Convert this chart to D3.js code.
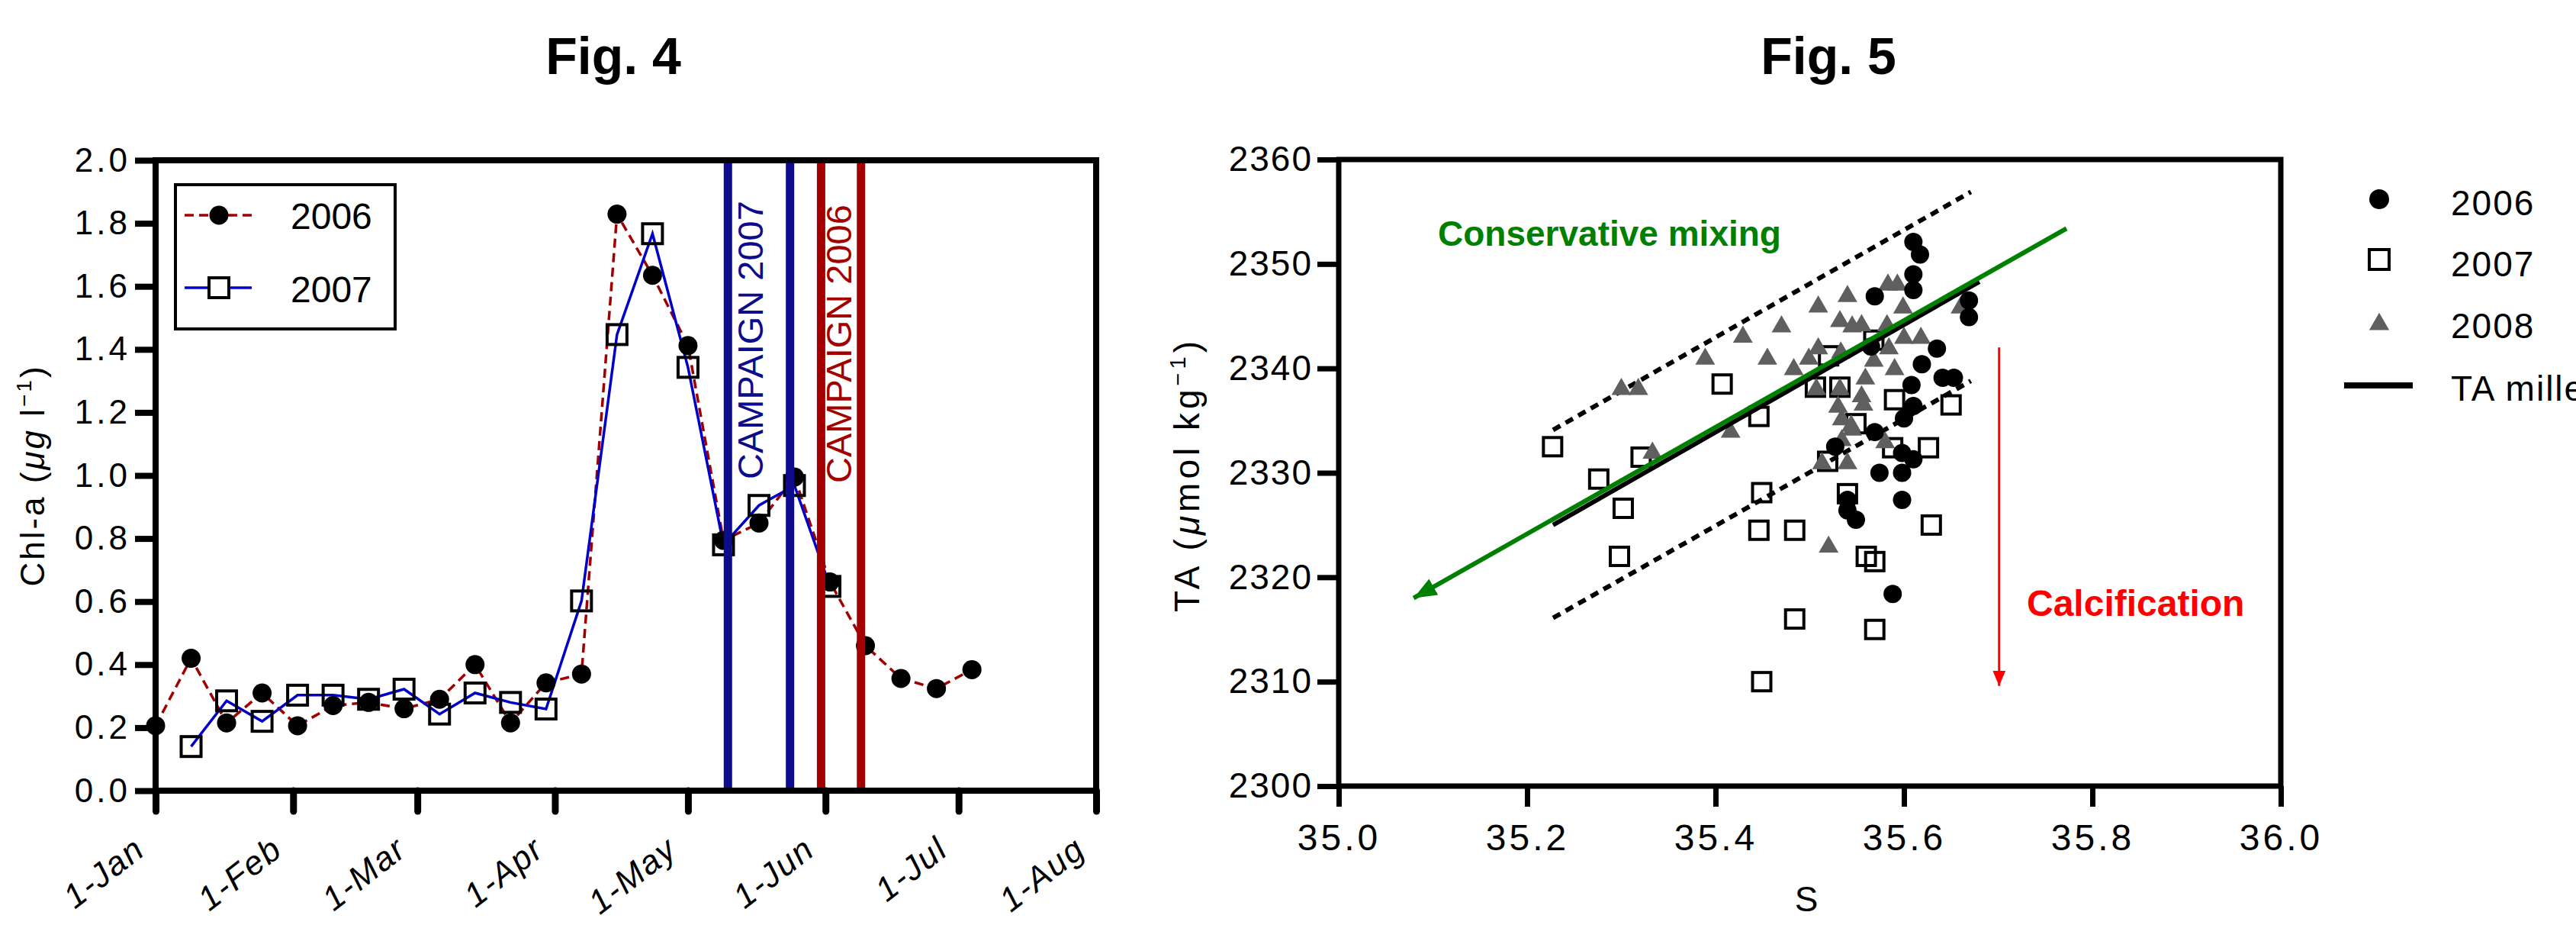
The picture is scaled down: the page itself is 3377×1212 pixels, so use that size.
<!DOCTYPE html>
<html>
<head>
<meta charset="utf-8">
<title>Fig. 4 / Fig. 5</title>
<script src="https://d3js.org/d3.v7.min.js"></script>
<style>
  body { margin: 0; background: #fff; }
  text { font-family: "Comic Sans MS", "Liberation Sans", Arial, sans-serif; }
</style>
</head>
<body>
<script>
// ---------- Fig. 4 data : 8-day Chl-a ----------
const chlDates2006 = ["01-01","01-09","01-17","01-25","02-02","02-10","02-18","02-26","03-06","03-14","03-22","03-30",
                      "04-07","04-15","04-23","05-01","05-09","05-17","05-25","06-02","06-10","06-18","06-26","07-04"];
const chl2006 = [0.206,0.42,0.215,0.31,0.206,0.27,0.28,0.26,0.29,0.40,0.215,0.342,
                 0.37,1.829,1.635,1.412,0.794,0.849,0.995,0.662,0.46,0.356,0.324,0.384];
const chlDates2007 = ["01-09","01-17","01-25","02-02","02-10","02-18","02-26","03-06","03-14","03-22","03-30",
                      "04-07","04-15","04-23","05-01","05-09","05-17","05-25","06-02"];
const chl2007 = [0.14,0.285,0.22,0.303,0.303,0.29,0.322,0.243,0.31,0.28,0.259,
                 0.602,1.447,1.767,1.343,0.78,0.905,0.968,0.648];
const campaign2007 = ["05-10","05-24"];
const campaign2006 = ["05-31","06-09"];
const monthTicks = ["01-01","02-01","03-01","04-01","05-01","06-01","07-01","08-01"];
const monthLabels = ["1-Jan","1-Feb","1-Mar","1-Apr","1-May","1-Jun","1-Jul","1-Aug"];
const chlTicks = [0,0.2,0.4,0.6,0.8,1.0,1.2,1.4,1.6,1.8,2.0];

// ---------- Fig. 5 data : TA vs S ----------
const ta2006 = [[35.610,2352.1],[35.617,2350.9],[35.610,2349.0],[35.610,2347.5],[35.569,2346.9],[35.669,2346.5],
                [35.669,2344.9],[35.635,2341.9],[35.619,2340.4],[35.641,2339.1],[35.653,2339.1],[35.608,2338.4],
                [35.610,2336.4],[35.600,2335.2],[35.569,2333.9],[35.527,2332.5],[35.598,2331.9],[35.610,2331.3],
                [35.574,2330.0],[35.598,2330.0],[35.540,2327.4],[35.540,2326.4],[35.549,2325.5],[35.598,2327.4],
                [35.588,2318.4],[35.565,2342.1]];
const ta2007 = [[35.227,2332.5],[35.276,2329.4],[35.302,2326.6],[35.298,2322.0],[35.321,2331.5],[35.407,2338.5],
                [35.446,2335.4],[35.449,2328.1],[35.446,2324.5],[35.484,2324.5],[35.484,2316.0],[35.449,2310.0],
                [35.520,2341.2],[35.506,2338.2],[35.532,2338.2],[35.519,2331.1],[35.549,2334.7],[35.540,2328.0],
                [35.560,2322.0],[35.569,2321.5],[35.569,2315.0],[35.590,2337.0],[35.588,2332.4],[35.626,2332.4],
                [35.629,2325.0],[35.650,2336.5],[35.568,2342.7]];
const ta2008 = [[35.300,2338.0],[35.318,2338.0],[35.333,2331.9],[35.389,2340.9],[35.416,2333.9],[35.429,2343.0],
                [35.455,2340.9],[35.470,2344.0],[35.483,2339.9],[35.499,2340.9],[35.509,2341.9],[35.509,2345.9],
                [35.507,2338.0],[35.532,2338.0],[35.533,2341.5],[35.532,2344.5],[35.540,2346.9],[35.545,2344.0],
                [35.555,2344.1],[35.559,2339.0],[35.555,2337.3],[35.557,2336.5],[35.530,2336.3],[35.534,2335.1],
                [35.544,2334.5],[35.545,2334.1],[35.534,2333.1],[35.513,2330.9],[35.540,2330.9],[35.580,2332.9],
                [35.520,2322.9],[35.568,2340.7],[35.584,2341.9],[35.590,2339.9],[35.582,2344.1],[35.600,2342.9],
                [35.618,2342.9],[35.599,2345.8],[35.583,2348.0],[35.593,2348.0],[35.660,2345.8]];
const mixingLine = [[35.7725,2353.4],[35.0795,2318.0]];
const milleroLine = [[35.2275,2325.0],[35.680,2348.3]];
const upperBound = [[35.2275,2334.1],[35.671,2356.9]];
const lowerBound = [[35.2275,2316.1],[35.671,2338.8]];
const calcArrow = [[35.701,2342.0],[35.701,2309.6]];
const sTicks = [35.0,35.2,35.4,35.6,35.8,36.0];
const taTicks = [2300,2310,2320,2330,2340,2350,2360];

const parseDay = d3.utcParse("%m-%d");

const svg = d3.select("body").append("svg")
    .attr("width", 3377)
    .attr("height", 1212);

const defs = svg.append("defs");
function arrowHead(id, color, w, l) {
    defs.append("marker")
        .attr("id", id)
        .attr("markerUnits", "userSpaceOnUse")
        .attr("viewBox", `0 ${-w/2} ${l} ${w}`)
        .attr("refX", l).attr("refY", 0)
        .attr("markerWidth", l).attr("markerHeight", w)
        .attr("orient", "auto")
        .append("path")
        .attr("d", `M0,${-w/2}L${l},0L0,${w/2}Z`)
        .attr("fill", color);
}
arrowHead("arrGreen", "#008000", 24, 30);
arrowHead("arrRed", "#ff0000", 17, 20);

// =============== Fig. 4 ===============
const x4 = d3.scaleUtc().domain([parseDay("01-01"), parseDay("08-01")]).range([204, 1437]);
const y4 = d3.scaleLinear().domain([0, 2]).range([1036, 210]);

const f4 = svg.append("g");

f4.append("text")
    .attr("x", 804).attr("y", 97)
    .attr("text-anchor", "middle")
    .attr("font-size", 68).attr("font-weight", "bold")
    .text("Fig. 4");

const s2006 = chlDates2006.map((d, i) => ({ date: parseDay(d), v: chl2006[i] }));
const s2007 = chlDates2007.map((d, i) => ({ date: parseDay(d), v: chl2007[i] }));

const line4 = d3.line().x(d => x4(d.date)).y(d => y4(d.v));

f4.append("path").datum(s2006)
    .attr("d", line4)
    .attr("fill", "none").attr("stroke", "#a00000")
    .attr("stroke-width", 3.5).attr("stroke-dasharray", "12,7");
f4.append("path").datum(s2007)
    .attr("d", line4)
    .attr("fill", "none").attr("stroke", "#0000c8")
    .attr("stroke-width", 3.5);

f4.selectAll(".sq07").data(s2007).join("rect")
    .attr("x", d => x4(d.date) - 13).attr("y", d => y4(d.v) - 13)
    .attr("width", 26).attr("height", 26)
    .attr("fill", "none").attr("stroke", "#000").attr("stroke-width", 4);
f4.selectAll(".c06").data(s2006).join("circle")
    .attr("cx", d => x4(d.date)).attr("cy", d => y4(d.v))
    .attr("r", 12.5).attr("fill", "#000");

// campaign bars
[[campaign2007, "#0c0c8c"], [campaign2006, "#a50000"]].forEach(([c, col]) => {
    c.forEach(d => {
        f4.append("line")
            .attr("x1", x4(parseDay(d))).attr("x2", x4(parseDay(d)))
            .attr("y1", y4(0)).attr("y2", y4(2))
            .attr("stroke", col).attr("stroke-width", 11);
    });
});
f4.append("text")
    .attr("transform", `translate(${x4(parseDay(campaign2007[0])) + 46},628) rotate(-90)`)
    .attr("font-size", 47).attr("fill", "#0c0c8c")
    .text("CAMPAIGN 2007");
f4.append("text")
    .attr("transform", `translate(${x4(parseDay(campaign2006[0])) + 40},633) rotate(-90)`)
    .attr("font-size", 47).attr("fill", "#a50000")
    .text("CAMPAIGN 2006");

// frame and axes
f4.append("rect")
    .attr("x", 204).attr("y", 210).attr("width", 1233).attr("height", 826)
    .attr("fill", "none").attr("stroke", "#000").attr("stroke-width", 8);

const yAx4 = f4.append("g").attr("transform", "translate(204,0)")
    .call(d3.axisLeft(y4).tickValues(chlTicks).tickFormat(d3.format(".1f")).tickSize(27).tickPadding(6));
yAx4.select(".domain").remove();
yAx4.selectAll("line").attr("stroke-width", 8);
yAx4.selectAll("text").attr("font-size", 44).attr("letter-spacing", 4).attr("fill", "#000");

const xAx4 = f4.append("g").attr("transform", "translate(0,1036)")
    .call(d3.axisBottom(x4).tickValues(monthTicks.map(parseDay)).tickSize(27)
        .tickFormat((d, i) => monthLabels[i]));
xAx4.select(".domain").remove();
xAx4.selectAll("line").attr("stroke-width", 9).attr("stroke-linecap", "round");
xAx4.selectAll("text")
    .attr("x", 0).attr("y", 0).attr("dy", 0)
    .attr("text-anchor", "end")
    .attr("transform", "translate(-12,82) rotate(-38)")
    .attr("font-size", 44).attr("font-style", "italic").attr("letter-spacing", 2).attr("fill", "#000");

const yl4 = f4.append("text")
    .attr("transform", "translate(58,623) rotate(-90)")
    .attr("text-anchor", "middle").attr("font-size", 44).attr("letter-spacing", 3);
yl4.append("tspan").text("Chl-a (");
yl4.append("tspan").attr("font-style", "italic").text("\u03bcg");
yl4.append("tspan").text(" l");
yl4.append("tspan").attr("font-size", 28).attr("dy", -17).text("\u22121");
yl4.append("tspan").attr("dy", 17).text(")");

// legend
const lg4 = f4.append("g");
lg4.append("rect").attr("x", 230).attr("y", 242).attr("width", 288).attr("height", 189)
    .attr("fill", "#fff").attr("stroke", "#000").attr("stroke-width", 4);
lg4.append("line").attr("x1", 242).attr("x2", 330).attr("y1", 282).attr("y2", 282)
    .attr("stroke", "#a00000").attr("stroke-width", 3.5).attr("stroke-dasharray", "12,7");
lg4.append("circle").attr("cx", 287).attr("cy", 282).attr("r", 12.5).attr("fill", "#000");
lg4.append("line").attr("x1", 242).attr("x2", 330).attr("y1", 377).attr("y2", 377)
    .attr("stroke", "#0000c8").attr("stroke-width", 3.5);
lg4.append("rect").attr("x", 274).attr("y", 364).attr("width", 26).attr("height", 26)
    .attr("fill", "#fff").attr("stroke", "#000").attr("stroke-width", 4);
lg4.append("text").attr("x", 381).attr("y", 300).attr("font-size", 48).text("2006");
lg4.append("text").attr("x", 381).attr("y", 396).attr("font-size", 48).text("2007");

// =============== Fig. 5 ===============
const x5 = d3.scaleLinear().domain([35, 36]).range([1755, 2990]);
const y5 = d3.scaleLinear().domain([2300, 2360]).range([1030, 209]);
const f5 = svg.append("g");

f5.append("text")
    .attr("x", 2397).attr("y", 97)
    .attr("text-anchor", "middle")
    .attr("font-size", 68).attr("font-weight", "bold")
    .text("Fig. 5");

const line5 = d3.line().x(d => x5(d[0])).y(d => y5(d[1]));

[upperBound, lowerBound].forEach(b => {
    f5.append("path").datum(b).attr("d", line5)
        .attr("stroke", "#000").attr("stroke-width", 6)
        .attr("stroke-dasharray", "11,8").attr("fill", "none");
});

f5.selectAll(".sq").data(ta2007).join("rect")
    .attr("x", d => x5(d[0]) - 12).attr("y", d => y5(d[1]) - 12)
    .attr("width", 24).attr("height", 24)
    .attr("fill", "none").attr("stroke", "#000").attr("stroke-width", 4);
const tri = d3.symbol().type(d3.symbolTriangle).size(290);
f5.selectAll(".tri").data(ta2008).join("path")
    .attr("d", tri)
    .attr("transform", d => `translate(${x5(d[0])},${y5(d[1])})`)
    .attr("fill", "#5f5f5f");
f5.selectAll(".dot").data(ta2006).join("circle")
    .attr("cx", d => x5(d[0])).attr("cy", d => y5(d[1]))
    .attr("r", 12).attr("fill", "#000");

f5.append("path").datum(milleroLine).attr("d", line5)
    .attr("stroke", "#000").attr("stroke-width", 6).attr("fill", "none");
f5.append("path").datum(mixingLine).attr("d", line5)
    .attr("stroke", "#008000").attr("stroke-width", 6).attr("fill", "none")
    .attr("marker-end", "url(#arrGreen)");
f5.append("path").datum(calcArrow).attr("d", line5)
    .attr("stroke", "#ff0000").attr("stroke-width", 3).attr("fill", "none")
    .attr("marker-end", "url(#arrRed)");

f5.append("text").attr("x", 1885).attr("y", 322)
    .attr("font-size", 46).attr("font-weight", "bold").attr("fill", "#008000")
    .text("Conservative mixing");
f5.append("text").attr("x", 2657).attr("y", 807)
    .attr("font-size", 48).attr("font-weight", "bold").attr("fill", "#ff0000")
    .text("Calcification");

f5.append("rect")
    .attr("x", 1755).attr("y", 209).attr("width", 1235).attr("height", 821)
    .attr("fill", "none").attr("stroke", "#000").attr("stroke-width", 7);

const yAx5 = f5.append("g").attr("transform", "translate(1755,0)")
    .call(d3.axisLeft(y5).tickValues(taTicks).tickFormat(d3.format("d")).tickSize(28).tickPadding(6));
yAx5.select(".domain").remove();
yAx5.selectAll("line").attr("stroke-width", 7);
yAx5.selectAll("text").attr("font-size", 46).attr("letter-spacing", 2).attr("fill", "#000");

const xAx5 = f5.append("g").attr("transform", "translate(0,1030)")
    .call(d3.axisBottom(x5).tickValues(sTicks).tickFormat(d3.format(".1f")).tickSize(27));
xAx5.select(".domain").remove();
xAx5.selectAll("line").attr("stroke-width", 7);
xAx5.selectAll("text").attr("y", 0).attr("dy", 84)
    .attr("font-size", 48).attr("letter-spacing", 4).attr("fill", "#000");

const yl5 = f5.append("text")
    .attr("transform", "translate(1572,622) rotate(-90)")
    .attr("text-anchor", "middle").attr("font-size", 46).attr("letter-spacing", 5);
yl5.append("tspan").text("TA (");
yl5.append("tspan").attr("font-style", "italic").text("\u03bc");
yl5.append("tspan").text("mol kg");
yl5.append("tspan").attr("font-size", 29).attr("dy", -18).text("\u22121");
yl5.append("tspan").attr("dy", 18).text(")");

f5.append("text").attr("x", 2368).attr("y", 1194)
    .attr("text-anchor", "middle").attr("font-size", 46).text("S");

// legend
const lg5 = f5.append("g");
lg5.append("circle").attr("cx", 3119).attr("cy", 261).attr("r", 13).attr("fill", "#000");
lg5.append("rect").attr("x", 3106).attr("y", 327).attr("width", 26).attr("height", 26)
    .attr("fill", "none").attr("stroke", "#000").attr("stroke-width", 4);
lg5.append("path").attr("d", d3.symbol().type(d3.symbolTriangle).size(300))
    .attr("transform", "translate(3119,425)").attr("fill", "#5f5f5f");
lg5.append("line").attr("x1", 3073).attr("x2", 3163).attr("y1", 505).attr("y2", 505)
    .attr("stroke", "#000").attr("stroke-width", 8);
const lgLabels5 = ["2006", "2007", "2008", "TA millero"];
const lgY5 = [282, 362, 443, 525];
lgLabels5.forEach((t, i) => {
    lg5.append("text").attr("x", 3213).attr("y", lgY5[i])
        .attr("font-size", 46).attr("letter-spacing", 2).text(t);
});
</script>
</body>
</html>
